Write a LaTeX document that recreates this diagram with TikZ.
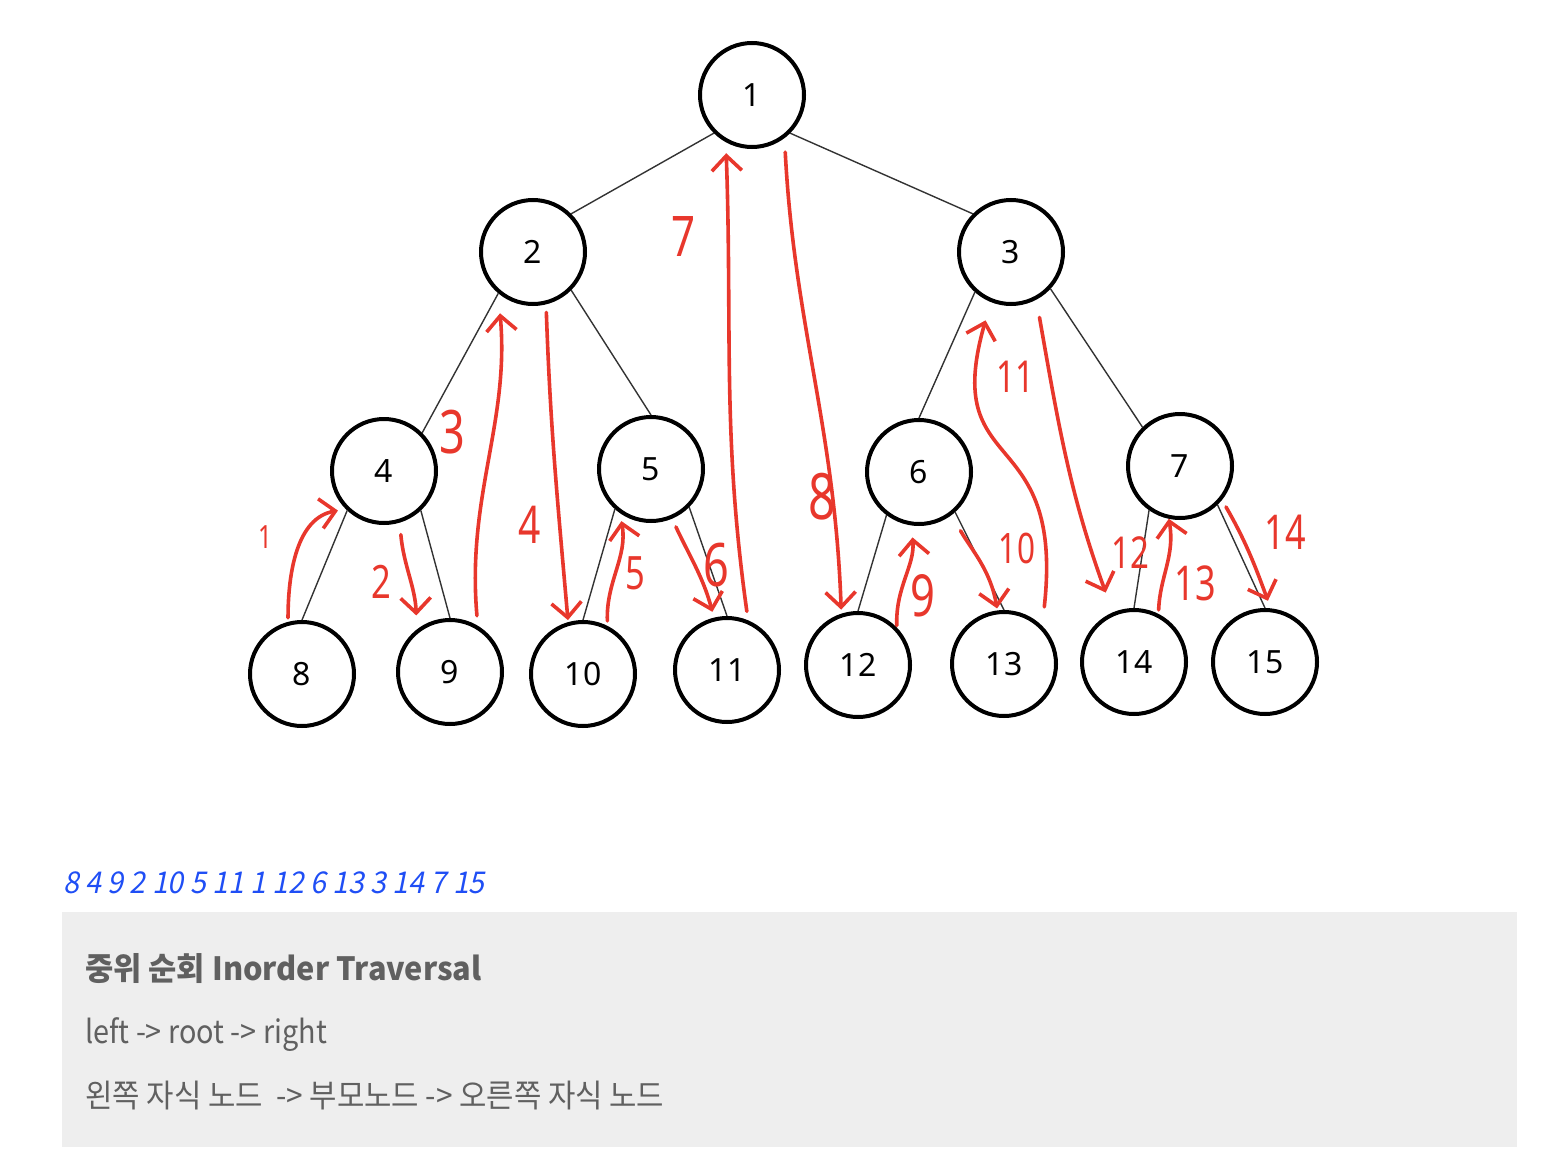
\documentclass[tikz,border=0pt]{standalone}
\usepackage{fontspec}
\usepackage{tikz}
\usetikzlibrary{arrows.meta}
\setmainfont{Noto Sans}
\newfontfamily\penfont[FakeStretch=0.75]{Noto Sans}
\newfontfamily\krfont[FakeStretch=0.9]{Noto Sans CJK KR}
\newfontfamily\krline[FakeStretch=0.93]{Noto Sans CJK KR}
\newfontfamily\krtitle[FakeStretch=0.96]{Noto Sans CJK KR}
\newfontfamily\krslant[FakeSlant=0.2,FakeStretch=0.95]{Noto Sans CJK KR}
\definecolor{penred}{HTML}{E8372C}
\definecolor{linkblue}{HTML}{1F4EF5}
\definecolor{boxgray}{HTML}{EEEEEE}
\definecolor{textgray}{HTML}{606060}

\begin{document}
\begin{tikzpicture}[x=1pt, y=-1pt,
  vertex/.style={draw, circle, line width=4pt, minimum size=104pt, inner sep=0pt, font=\fontsize{32}{36}\selectfont},
  link/.style={line width=1.4pt, black!80},
  pen/.style={penred, line width=3.6pt, line cap=round, line join=round, -{Straight Barb[length=15pt,width=30pt]}},
  penlabel/.style={penred, inner sep=0pt, font=\penfont\fontsize{#1}{#1}\selectfont},
  penlabel/.default=50]
\useasboundingbox (0,0) rectangle (1560,1172);

% tree
\node (n1) [vertex] at (752,95) {1};
\node (n2) [vertex] at (533,252) {2};
\node (n3) [vertex] at (1011,252) {3};
\node (n4) [vertex] at (384,471) {4};
\node (n5) [vertex] at (651,469) {5};
\node (n6) [vertex] at (919,472) {6};
\node (n7) [vertex] at (1180,466) {7};
\node (n8) [vertex] at (302,674) {8};
\node (n9) [vertex] at (450,672) {9};
\node (n10) [vertex] at (583,674) {10};
\node (n11) [vertex] at (727,670) {11};
\node (n12) [vertex] at (858,665) {12};
\node (n13) [vertex] at (1004,664) {13};
\node (n14) [vertex] at (1134,662) {14};
\node (n15) [vertex] at (1265,662) {15};
\draw [link] (n1.225) -- (n2.45);
\draw [link] (n1.-45) -- (n3.135);
\draw [link] (n2.230) -- (n4.45);
\draw [link] (n2.-45) -- (n5.north);
\draw [link] (n3.228) -- (n6.north);
\draw [link] (n3.-43) -- (n7.134);
\draw [link] (n4.227) -- (n8.north);
\draw [link] (n4.-47) -- (n9.north);
\draw [link] (n5.228) -- (n10.north);
\draw [link] (n5.-45) -- (n11.north);
\draw [link] (n6.233) -- (n12.north);
\draw [link] (n6.-48) -- (n13.north);
\draw [link] (n7.235) -- (n14.north);
\draw [link] (n7.-46) -- (n15.north);

% traversal strokes
\draw [pen, shorten <=4pt, shorten >=8pt] (n8.105) to[out=90,in=190] (n4.225);
\draw [pen, shorten <=12pt, shorten >=14pt] (n4.287) to[out=-85,in=92] (n9.128);
\draw [pen, shorten <=10pt, shorten >=20pt] (n9.59) to[out=95,in=-85] (n2.230);
\draw [pen, shorten <=8pt, shorten >=2pt] (n2.284) to[out=-88,in=95] (n10.106);
\draw [pen, shorten <=5pt, shorten >=8pt] (n10.63) to[out=92,in=-80] (n5.235);
\draw [pen, shorten <=9pt, shorten >=6pt] (n5.293) to[out=-65,in=105] (n11.104);
\draw [pen, shorten <=9pt, shorten >=11pt] (n11.67) to[out=98,in=-88] (n1.241);
\draw [pen, shorten <=14pt, shorten >=4pt] (n1.307) to[out=-87,in=92] (n12.108);
\draw [pen, shorten <=2pt, shorten >=12pt] (n12.44) to[out=92,in=-85] (n6.262);
\draw [pen, shorten <=18pt, shorten >=2pt] (n6.307) to[out=-60,in=100] (n13.97);
\draw [pen, shorten <=19pt, shorten >=19pt] (n13.45) .. controls (1065,420) and (940,480) .. (n3.248);
\draw [pen, shorten <=18pt, shorten >=21pt] (n3.298) to[out=-80,in=110] (n14.113);
\draw [pen, shorten <=4pt] (n14.63) to[out=88,in=-80] (n7.258);
\draw [pen, shorten <=8pt, shorten >=8pt] (n7.321) to[out=-60,in=110] (n15.84);
\node (l1) [penlabel=32] at (265,537) {1};
\node (l2) [penlabel=46] at (381,582) {2};
\node (l3) [penlabel=60] at (452,432) {3};
\node (l4) [penlabel=52] at (530,525) {4};
\node (l5) [penlabel=46] at (635,573) {5};
\node (l6) [penlabel=60] at (716,565) {6};
\node (l7) [penlabel=56] at (684,237) {7};
\node (l8) [penlabel=64] at (822,497) {8};
\node (l9) [penlabel=58] at (923,596) {9};
\node (l10) [penlabel=42] at (1017,548) {10};
\node (l11) [penlabel=44] at (1015,377) {11};
\node (l12) [penlabel=44] at (1130,553) {12};
\node (l13) [penlabel=48] at (1195,583) {13};
\node (l14) [penlabel=48] at (1285,532) {14};

% result and note
\node (order) [anchor=base west, inner sep=0pt, linkblue, font=\krslant\fontsize{30}{34}\selectfont] at (63,893) {8 4 9 2 10 5 11 1 12 6 13 3 14 7 15};
\fill [boxgray] (62,912) rectangle (1517,1147);
\node (title) [anchor=base west, inner sep=0pt, textgray, font=\krtitle\bfseries\fontsize{32}{36}\selectfont] at (85,980) {중위 순회 Inorder Traversal};
\node (rule) [anchor=base west, inner sep=0pt, textgray, font=\krfont\fontsize{32}{36}\selectfont] at (85,1043) {left -> root -> right};
\node (rulekr) [anchor=base west, inner sep=0pt, textgray, font=\krline\fontsize{32}{36}\selectfont] at (85,1107) {왼쪽 자식 노드~ -> 부모노드 -> 오른쪽 자식 노드};
\end{tikzpicture}
\end{document}
